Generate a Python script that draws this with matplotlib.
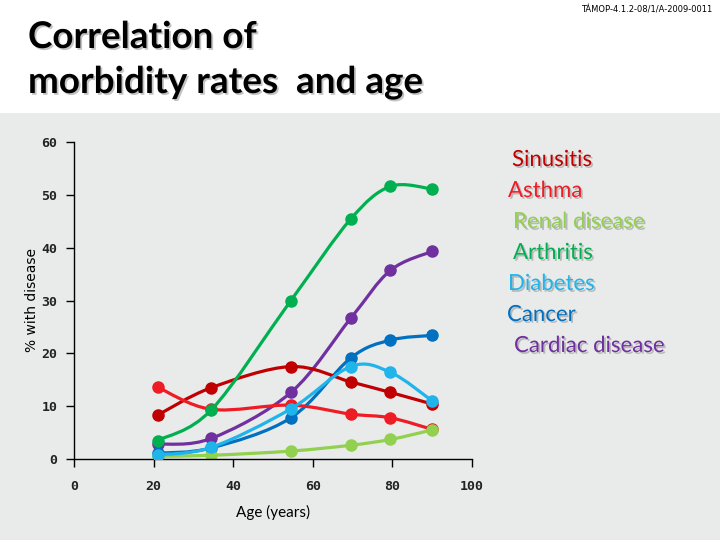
import matplotlib.pyplot as plt
import matplotlib.patheffects as pe
from matplotlib.path import Path
from matplotlib.patches import PathPatch, Rectangle
import numpy as np

# ages (midpoints of the age groups)
ages = [21, 34.5, 54.5, 69.5, 79.5, 90]

sinusitis = [8.3, 13.5, 17.5, 14.6, 12.6, 10.4]
asthma = [13.6, 9.4, 10.2, 8.5, 7.8, 5.6]
renal = [0.5, 0.7, 1.5, 2.6, 3.7, 5.5]
arthritis = [3.5, 9.3, 30.0, 45.4, 51.6, 51.1]
diabetes = [0.8, 2.2, 9.5, 17.5, 16.4, 11.0]
cancer = [1.1, 2.1, 7.8, 19.1, 22.5, 23.4]
cardiac = [2.8, 3.9, 12.6, 26.6, 35.7, 39.3]

names = ["Sinusitis", "Asthma", "Renal disease", "Arthritis",
         "Diabetes", "Cancer", "Cardiac disease"]
colors = ["#c00000", "#ee1c24", "#92d050", "#00b050",
          "#1fb4ea", "#0070c0", "#7030a0"]
series = [sinusitis, asthma, renal, arthritis, diabetes, cancer, cardiac]

# drawing order (what lies on top of what)
order = [6, 5, 0, 1, 2, 3, 4]


def smooth_path(x, y):
    # catmull-rom style bezier, like the smoothed lines of a spreadsheet
    p = np.column_stack([x, y]).astype(float)
    pts = np.vstack([p[0], p, p[-1]])
    verts = [p[0]]
    codes = [Path.MOVETO]
    for i in range(1, len(pts) - 2):
        c1 = pts[i] + (pts[i + 1] - pts[i - 1]) / 6.0
        c2 = pts[i + 1] - (pts[i + 2] - pts[i]) / 6.0
        verts += [c1, c2, pts[i + 1]]
        codes += [Path.CURVE4] * 3
    return Path(verts, codes)


fig = plt.figure(figsize=(7.2, 5.4), dpi=100)
fig.patch.set_facecolor("white")
fig.patches.append(Rectangle((0, 0), 1, 1 - 113 / 540, transform=fig.transFigure,
                             facecolor="#e9eaea", edgecolor="none", zorder=-10))

ax = fig.add_axes([74 / 720, 1 - 459 / 540, (472 - 74) / 720, (459 - 142) / 540])
ax.set_facecolor("none")

for j, k in enumerate(order):
    patch = PathPatch(smooth_path(ages, series[k]), facecolor="none",
                      edgecolor=colors[k], lw=2.3, zorder=2 + j * 0.1,
                      capstyle="round", joinstyle="round")
    ax.add_patch(patch)
    ax.plot(ages, series[k], "o", color=colors[k], ms=8, zorder=2.05 + j * 0.1)

ax.set_xlim(0, 100)
ax.set_ylim(0, 60)
ax.set_xticks(np.arange(0, 101, 20))
ax.set_yticks(np.arange(0, 61, 10))
for s in ["top", "right"]:
    ax.spines[s].set_visible(False)
for s in ["left", "bottom"]:
    ax.spines[s].set_linewidth(1.0)
ax.tick_params(direction="out", length=6, width=1.0, colors="black")
ax.tick_params(axis="x", pad=9)
ax.tick_params(axis="y", pad=6)
for lab in ax.get_xticklabels() + ax.get_yticklabels():
    lab.set_family("DejaVu Sans Mono")
    lab.set_fontsize(9.5)
    lab.set_weight("bold")
    lab.set_color("#222222")

ax.set_xlabel("Age (years)", fontsize=11, family="Lato", labelpad=9)
fig.text(32 / 720, 1 - 300 / 540, "% with disease", rotation=90, fontsize=10,
         family="DejaVu Sans", ha="center", va="center")

shadow = [pe.withSimplePatchShadow(offset=(1.3, -1.3), shadow_rgbFace="#888888", alpha=0.5)]

fig.text(28 / 720, 1 - 48 / 540, "Correlation of",
         fontsize=26.5, weight="bold", family="Lato", ha="left", va="baseline",
         path_effects=shadow)
fig.text(28 / 720, 1 - 93 / 540, "morbidity rates  and age",
         fontsize=26.5, weight="bold", family="Lato", ha="left", va="baseline",
         path_effects=shadow)

fig.text(712 / 720, 1 - 10 / 540, "TÁMOP-4.1.2-08/1/A-2009-0011", fontsize=6,
         family="DejaVu Sans", ha="right", va="center")

leg_x = [512, 508, 513, 513, 508, 507, 514]
for i, name in enumerate(names):
    fig.text(leg_x[i] / 720, 1 - (160 + 31 * i) / 540, name, fontsize=16,
             family="Lato", color=colors[i], ha="left", va="center",
             path_effects=shadow)

fig.savefig("out.png", dpi=100)
